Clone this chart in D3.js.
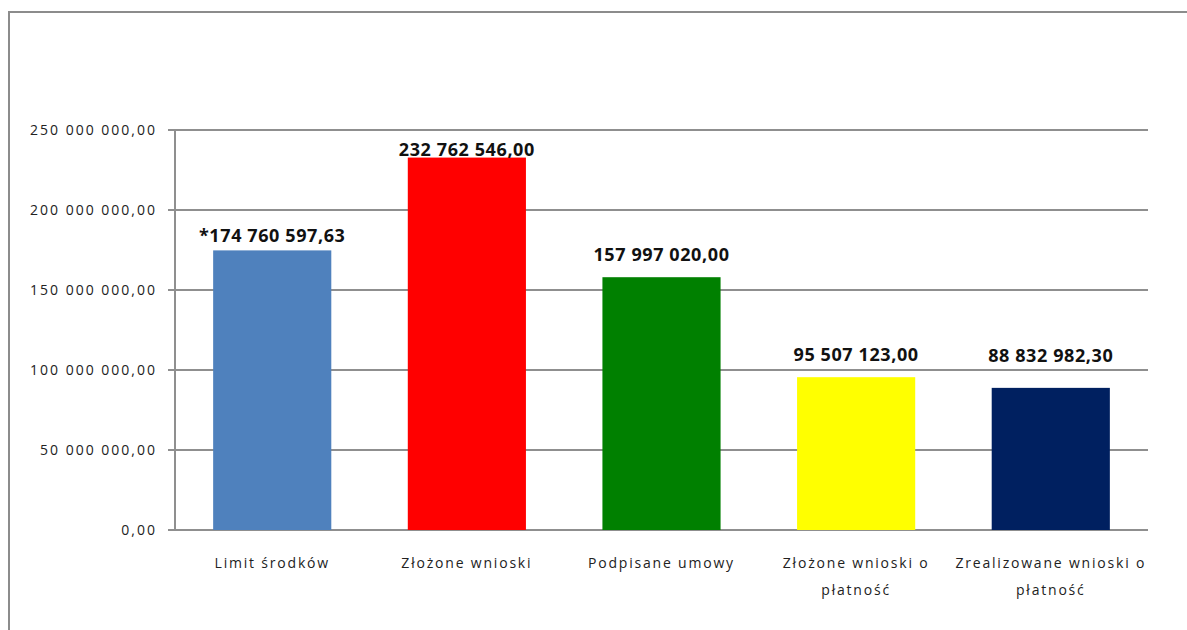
<!DOCTYPE html>
<html>
<head>
<meta charset="utf-8">
<script src="https://cdn.jsdelivr.net/npm/d3@7"></script>
<style>
  html, body { margin: 0; padding: 0; background: #fff; }
  svg { display: block; }
</style>
</head>
<body>
<svg id="chart" width="1187" height="630"></svg>
<script>
const categories = [
  ["Limit środków"],
  ["Złożone wnioski"],
  ["Podpisane umowy"],
  ["Złożone wnioski o", "płatność"],
  ["Zrealizowane wnioski o", "płatność"]
];
const values = [174760597.63, 232762546.00, 157997020.00, 95507123.00, 88832982.30];
const labelPrefixes = ["*", "", "", "", ""];
const yTicks = [0, 50000000, 100000000, 150000000, 200000000, 250000000];

// styling / placement (kept separate from data)
const colors = ["#4F81BD", "#FF0000", "#008000", "#FFFF00", "#002060"];
const labelGap = [8, 2, 16, 16, 26]; // px between bar top and label baseline (manually placed in original)

const svg = d3.select("#chart");
const W = 1187, H = 630;
const m = { left: 175, right: 1148, top: 130, bottom: 530 };

const pl = d3.formatLocale({ decimal: ",", thousands: " ", grouping: [3], currency: ["", ""] });
const fmt = pl.format(",.2f");

// outer frame
svg.append("path")
  .attr("d", `M9,${H + 5} L9,12 L${W + 5},12`)
  .attr("fill", "none").attr("stroke", "#8c8c8c").attr("stroke-width", 2);

const x = d3.scaleBand().domain(d3.range(values.length)).range([m.left, m.right])
  .paddingInner(0.393).paddingOuter(0.196);
const y = d3.scaleLinear().domain([0, 250000000]).range([m.bottom, m.top]);

// gridlines (with tick stubs)
svg.append("g").selectAll("line").data(yTicks).join("line")
  .attr("x1", m.left - 7).attr("x2", m.right)
  .attr("y1", d => y(d)).attr("y2", d => y(d))
  .attr("stroke", "#8f8f8f").attr("stroke-width", 2);

// y axis line
svg.append("line").attr("x1", m.left).attr("x2", m.left)
  .attr("y1", m.top).attr("y2", m.bottom)
  .attr("stroke", "#8f8f8f").attr("stroke-width", 2);

// y labels
svg.append("g").selectAll("text").data(yTicks).join("text")
  .attr("x", 157).attr("y", d => y(d)).attr("dy", "0.35em")
  .attr("text-anchor", "end")
  .attr("font-family", "'Open Sans', sans-serif").attr("font-size", 14)
  .attr("letter-spacing", 2.0)
  .attr("fill", "#222")
  .text(d => fmt(d));

// bars
svg.append("g").selectAll("rect").data(values).join("rect")
  .attr("x", (d, i) => x(i)).attr("width", x.bandwidth())
  .attr("y", d => y(d)).attr("height", d => y(0) - y(d))
  .attr("fill", (d, i) => colors[i]);

// data labels
svg.append("g").selectAll("text").data(values).join("text")
  .attr("x", (d, i) => x(i) + x.bandwidth() / 2)
  .attr("y", (d, i) => y(d) - labelGap[i])
  .attr("text-anchor", "middle")
  .attr("font-family", "'Open Sans', sans-serif").attr("font-size", 18).attr("font-weight", "bold")
  .attr("letter-spacing", 0.6)
  .attr("fill", "#111")
  .text((d, i) => labelPrefixes[i] + fmt(d));

// category labels
const cat = svg.append("g").selectAll("text").data(categories).join("text")
  .attr("text-anchor", "middle")
  .attr("font-family", "'Open Sans', sans-serif").attr("font-size", 14)
  .attr("letter-spacing", 1.8)
  .attr("fill", "#222");
cat.each(function (lines, i) {
  d3.select(this).selectAll("tspan").data(lines).join("tspan")
    .attr("x", x(i) + x.bandwidth() / 2)
    .attr("y", (l, j) => 568 + j * 27)
    .text(l => l);
});
</script>
</body>
</html>
